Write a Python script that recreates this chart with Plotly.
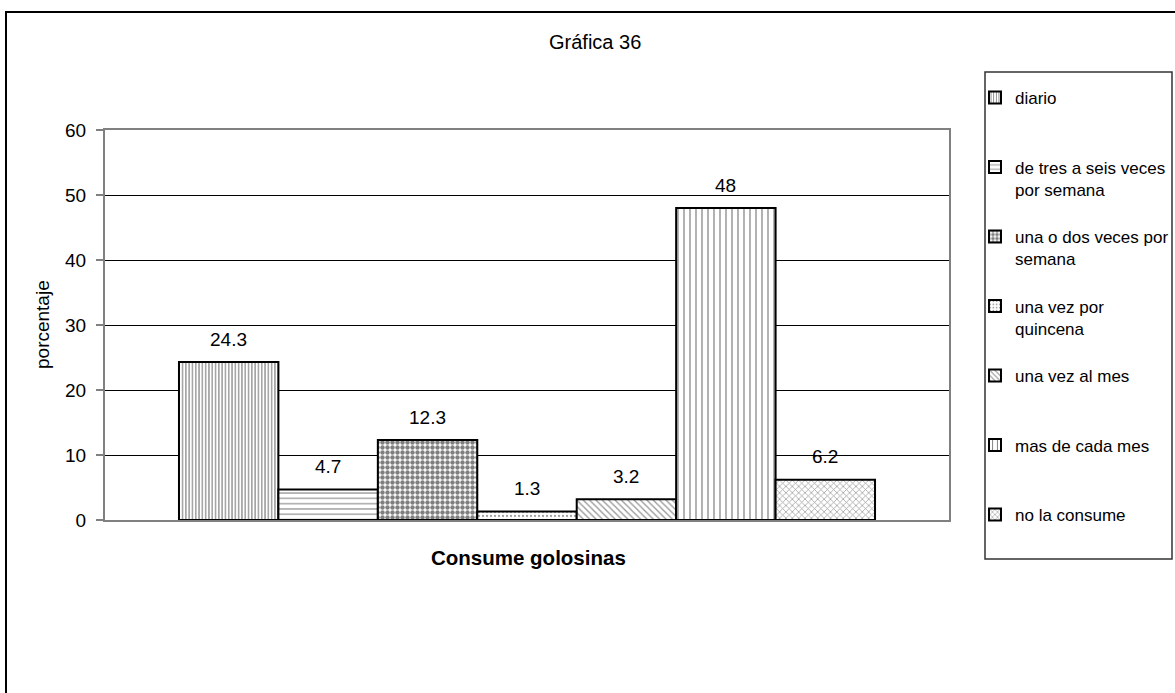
import plotly.graph_objects as go

# ---------------- data ----------------
categories = ["diario", "de tres a seis veces por semana", "una o dos veces por semana",
              "una vez por quincena", "una vez al mes", "mas de cada mes", "no la consume"]
legend_labels = ["diario<br> ", "de tres a seis veces<br>por semana", "una o dos veces por<br>semana",
                 "una vez por<br>quincena", "una vez al mes<br> ", "mas de cada mes<br> ", "no la consume<br> "]
values = [24.3, 4.7, 12.3, 1.3, 3.2, 48, 6.2]
value_labels = ["24.3", "4.7", "12.3", "1.3", "3.2", "48", "6.2"]
y_ticks = [0, 10, 20, 30, 40, 50, 60]
chart_title = "Gráfica 36"
x_title = "Consume golosinas"
y_title = "porcentaje"

# ---------------- styles ----------------
patterns = [
    dict(shape="|", size=3.3, solidity=0.35, fgcolor="#000", bgcolor="#fff"),
    dict(shape="-", size=5.3, solidity=0.3, fgcolor="#555", bgcolor="#fff"),
    dict(shape=".", size=5, solidity=0.62, fgcolor="#000", bgcolor="#fff"),
    dict(shape=".", size=4, solidity=0.25, fgcolor="#444", bgcolor="#fff"),
    dict(shape="\\", size=4.5, solidity=0.3, fgcolor="#333", bgcolor="#fff"),
    dict(shape="|", size=6, solidity=0.2, fgcolor="#000", bgcolor="#fff"),
    dict(shape="x", size=4.5, solidity=0.3, fgcolor="#333", bgcolor="#fff"),
]

FONT = "Liberation Sans, Arial, sans-serif"
W, H = 1175, 693
L, R, T, B = 105, 949, 130, 520


def px(x):
    return (x - L) / (R - L)


def py(y):
    return (B - y) / (B - T)


fig = go.Figure()
for i, (lab, v) in enumerate(zip(legend_labels, values)):
    fig.add_trace(go.Bar(
        x=[i], y=[v], width=1, name=lab, legendgroup=categories[i],
        marker=dict(color="#fff", line=dict(color="#000", width=2), pattern=patterns[i]),
        hoverinfo="skip",
    ))

annotations = []
for i, (v, t) in enumerate(zip(values, value_labels)):
    annotations.append(dict(x=i, y=v, xref="x", yref="y", text=t, showarrow=False,
                            yanchor="middle", yshift=23, font=dict(size=19, color="#000", family=FONT)))

annotations.append(dict(x=px(595), y=py(42), xref="paper", yref="paper", text=chart_title,
                        showarrow=False, xanchor="center", yanchor="middle",
                        font=dict(size=20, color="#000", family=FONT)))
annotations.append(dict(x=px(528), y=py(557), xref="paper", yref="paper", text="<b>" + x_title + "</b>",
                        showarrow=False, xanchor="center", yanchor="middle",
                        font=dict(size=20.5, color="#000", family=FONT)))
annotations.append(dict(x=px(42), y=py(325), xref="paper", yref="paper", text=y_title,
                        showarrow=False, xanchor="center", yanchor="middle", textangle=-90,
                        font=dict(size=19, color="#000", family=FONT)))

shapes = [
    # outer chart border
    dict(type="rect", xref="paper", yref="paper", x0=px(6), x1=px(1200), y0=py(720), y1=py(12),
         line=dict(color="#000", width=2), fillcolor="rgba(0,0,0,0)", layer="below"),
    # legend box
    dict(type="rect", xref="paper", yref="paper", x0=px(985), x1=px(1172), y0=py(559), y1=py(72),
         line=dict(color="#333", width=1.5), fillcolor="rgba(0,0,0,0)"),
]

fig.update_layout(
    width=W, height=H, autosize=False,
    margin=dict(l=L, r=W - R, t=T, b=H - B, pad=0),
    paper_bgcolor="#fff", plot_bgcolor="#fff",
    barmode="overlay", bargap=0,
    showlegend=True,
    legend=dict(xref="container", yref="container", x=975 / W, y=1 - 80 / H,
                xanchor="left", yanchor="top",
                font=dict(size=17, color="#000", family=FONT),
                bgcolor="rgba(0,0,0,0)", borderwidth=0, maxheight=600,
                tracegroupgap=22.3, valign="top", traceorder="grouped"),
    annotations=annotations,
    shapes=shapes,
    font=dict(family=FONT, color="#000"),
)
fig.update_xaxes(range=[-1.244, 7.244], showticklabels=False, ticks="", showgrid=False,
                 zeroline=False, showline=True, mirror=True, linecolor="#808080", linewidth=2)
fig.update_yaxes(range=[0, 60], tickvals=y_ticks, ticktext=[str(t) for t in y_ticks],
                 showgrid=True, gridcolor="#000", gridwidth=1, zeroline=False,
                 showline=True, mirror=True, linecolor="#808080", linewidth=2,
                 ticks="outside", ticklen=7, tickcolor="#808080", tickwidth=1.5,
                 ticklabelstandoff=6, tickfont=dict(size=19, color="#000", family=FONT))

fig.write_html(
    "out.html",
    config={"responsive": False, "displayModeBar": False, "staticPlot": True},
    post_script=("document.documentElement.style.margin='0';document.body.style.margin='0';"
                 "document.documentElement.style.overflow='hidden';document.body.style.overflow='hidden';"),
)
